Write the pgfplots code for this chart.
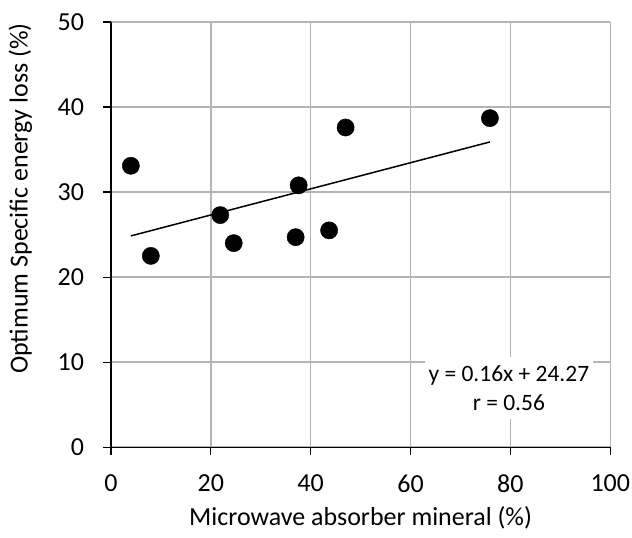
\documentclass[border=0pt]{standalone}
\usepackage{pgfplots}
\pgfplotsset{compat=1.18}
\usepackage{fontspec}
\setmainfont{Carlito}
\definecolor{gridgray}{RGB}{180,180,180}

\begin{document}
\fontsize{26}{31}\selectfont
\begin{tikzpicture}
\begin{axis}[
  scale only axis,
  width=498bp, height=424bp,
  xmin=0, xmax=100, ymin=0, ymax=50,
  xtick={0,20,...,100}, ytick={0,10,...,50},
  axis x line*=bottom, axis y line*=left,
  axis line style={black, line width=1.3bp},
  grid=major, grid style={gridgray, line width=1.5bp},
  tick align=outside, major tick length=8bp,
  tick style={black, line width=1.3bp},
  /pgf/number format/assume math mode=true,
  ticklabel style={font=\fontsize{26}{31}\selectfont},
  xticklabel style={yshift=-11bp, inner xsep=2bp},
  yticklabel style={xshift=-10bp},
  xlabel={Microwave absorber mineral (\%)},
  ylabel={Optimum Specific energy loss (\%)},
  label style={font=\fontsize{26}{31}\selectfont},
  xlabel style={yshift=4bp},
  ylabel style={at={(ticklabel cs:0.585)}, yshift=8bp},
  clip=false]
  \addplot[black, line width=1.5bp] coordinates {(4,24.85) (75.9,35.9)};
  \addplot[only marks, mark=*, mark size=8.6bp, black] coordinates {
    (4.0,33.1) (8.0,22.5) (21.9,27.3) (24.6,24.0) (37.0,24.7)
    (43.7,25.5) (37.6,30.8) (47.0,37.6) (75.9,38.7)};
  \node[fill=white, align=center, minimum width=168bp, minimum height=62bp,
        inner sep=0pt, font=\fontsize{23.5}{29}\selectfont]
    at (axis cs:79.7,6.95) {y = 0.16x + 24.27\\r = 0.56};
  \path (rel axis cs:0,1) -- ++(0pt,22bp);
\end{axis}
\end{tikzpicture}
\end{document}
